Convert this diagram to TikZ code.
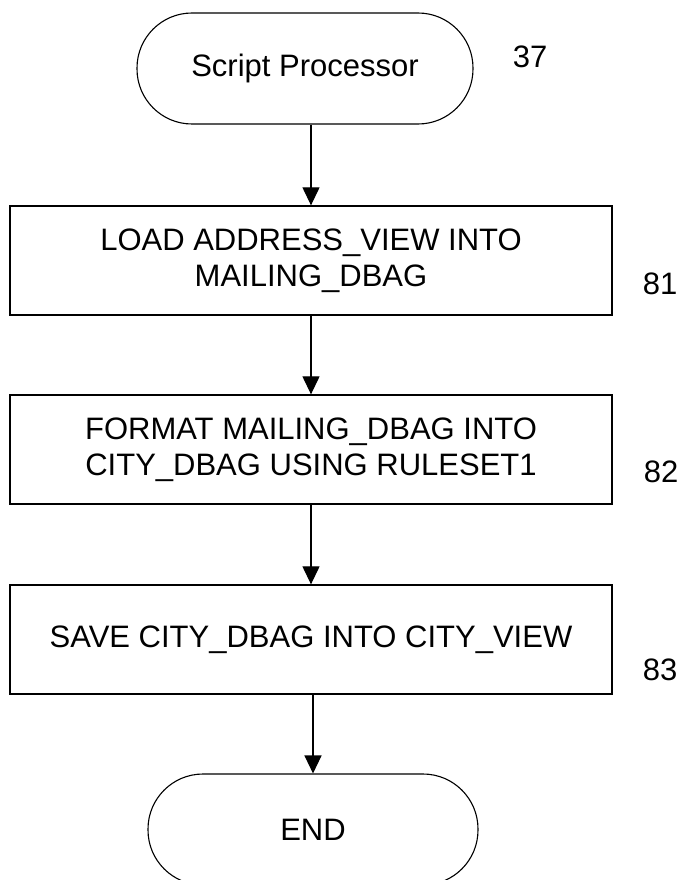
\documentclass[tikz,border=0pt]{standalone}
\usepackage{fontspec}
\setmainfont{Liberation Sans}
\usetikzlibrary{arrows.meta}
\begin{document}
\begin{tikzpicture}[x=1pt,y=-1pt,
  every node/.style={font=\fontsize{31}{36}\selectfont, inner sep=0pt},
  term/.style={draw, line width=1.1pt, rounded corners=55pt, minimum width=336pt, minimum height=111pt},
  procbox/.style={draw, line width=1.3pt, minimum width=602pt, minimum height=109pt, align=center},
  arr/.style={line width=1.2pt, -{Triangle[width=17pt,length=18pt]}},
  refnum/.style={anchor=center}]
\useasboundingbox (0,0) rectangle (692,880);
\node[term] (s) at (305,68.5) {Script Processor};
\node[refnum] (n37) at (530,57) {37};
\node[procbox] (b1) at (311,260.5) {LOAD ADDRESS\_VIEW INTO\\MAILING\_DBAG};
\node[refnum] (n81) at (660,284) {81};
\node[procbox] (b2) at (311,449.5) {FORMAT MAILING\_DBAG INTO\\CITY\_DBAG USING RULESET1};
\node[refnum] (n82) at (661,472) {82};
\node[procbox] (b3) at (311,639.5) {SAVE CITY\_DBAG INTO CITY\_VIEW};
\node[refnum] (n83) at (660,670) {83};
\node[term, minimum width=330pt] (e) at (313,829.5) {END};
\draw[arr] ([xshift=6pt]s.south) -- (b1.north);
\draw[arr] (b1.south) -- (b2.north);
\draw[arr] (b2.south) -- (b3.north);
\draw[arr] ([xshift=2pt]b3.south) -- ([xshift=2pt]b3.south |- e.north);
\end{tikzpicture}
\end{document}
